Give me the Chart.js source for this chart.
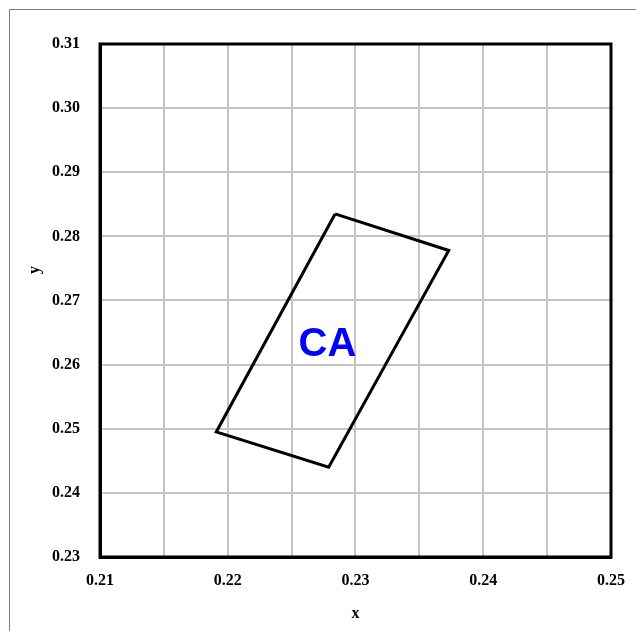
<!DOCTYPE html>
<html>
<head>
<meta charset="utf-8">
<script src="https://cdn.jsdelivr.net/npm/chart.js@4.4.0/dist/chart.umd.min.js"></script>
<style>
  html, body { margin: 0; padding: 0; background: #fff; overflow: hidden; }
  #wrap { position: relative; width: 636px; height: 631px; overflow: hidden; }
  #frame { position: absolute; left: 9px; top: 9px; width: 700px; height: 700px; border: 1px solid #7f7f7f; }
  #c { position: absolute; left: 0; top: 0; }
</style>
</head>
<body>
<div id="wrap">
  <div id="frame"></div>
  <canvas id="c" width="639" height="631"></canvas>
</div>
<script>
// region outline (closed: last point repeats the first)
var polyX = [0.2284, 0.2373, 0.2279, 0.2191, 0.2284];
var polyY = [0.2835, 0.2778, 0.2440, 0.2495, 0.2835];
var regionName = 'CA';
var labelX = [0.2278];
var labelY = [0.2630];

var xMin = 0.21, xMax = 0.25;
var yMin = 0.23, yMax = 0.31;

var points = polyX.map(function (x, i) {
  return { x: x, y: polyY[i] };
});

var tickFont = { family: '"Liberation Serif", "Times New Roman", serif', size: 16, weight: 'bold' };

var extraText = {
  id: 'extraText',
  afterDatasetsDraw: function (chart) {
    var ctx = chart.ctx;
    var sx = chart.scales.x, sy = chart.scales.y;
    ctx.save();
    ctx.fillStyle = '#0000ff';
    ctx.font = 'bold 40px "Liberation Sans", Arial, sans-serif';
    ctx.textAlign = 'center';
    ctx.textBaseline = 'middle';
    ctx.fillText(regionName, sx.getPixelForValue(labelX[0]), sy.getPixelForValue(labelY[0]));
    // y axis title
    ctx.fillStyle = '#000';
    ctx.font = 'bold 16px "Liberation Serif", "Times New Roman", serif';
    ctx.translate(35, 270);
    ctx.rotate(-Math.PI / 2);
    ctx.fillText('y', 0, 0);
    ctx.restore();
  }
};

new Chart(document.getElementById('c'), {
  type: 'scatter',
  data: {
    datasets: [{
      data: points,
      showLine: true,
      borderColor: '#000',
      borderWidth: 3,
      pointRadius: 0,
      fill: false,
      tension: 0
    }]
  },
  options: {
    responsive: false,
    animation: false,
    layout: { padding: { top: 44, right: 22, left: 0, bottom: 0 } },
    plugins: {
      legend: { display: false },
      tooltip: { enabled: false }
    },
    scales: {
      x: {
        type: 'linear',
        min: xMin,
        max: xMax,
        border: { display: true, color: '#000', width: 3 },
        grid: { color: '#c4c4c4', lineWidth: 2, drawTicks: false },
        ticks: {
          stepSize: 0.005,
          padding: 14,
          color: '#000',
          font: tickFont,
          maxRotation: 0,
          autoSkip: false,
          callback: function (v) {
            var r = Math.round(v * 100);
            return Math.abs(v * 100 - r) < 1e-6 ? (r / 100).toFixed(2) : '';
          }
        },
        title: {
          display: true,
          text: 'x',
          color: '#000',
          font: tickFont,
          padding: { top: 6, bottom: 8 }
        },
        afterFit: function (scale) { scale.height = 74; }
      },
      y: {
        type: 'linear',
        min: yMin,
        max: yMax,
        border: { display: true, color: '#000', width: 3 },
        grid: { color: '#c4c4c4', lineWidth: 2, drawTicks: false },
        ticks: {
          stepSize: 0.01,
          padding: 20,
          color: '#000',
          font: tickFont,
          callback: function (v) { return v.toFixed(2); }
        },
        afterFit: function (scale) { scale.width = 100; }
      }
    }
  },
  plugins: [extraText, {
    id: 'frameBox',
    afterDraw: function (chart) {
      var a = chart.chartArea, ctx = chart.ctx;
      ctx.save();
      ctx.strokeStyle = '#000';
      ctx.lineWidth = 3;
      ctx.strokeRect(a.left, a.top, a.right - a.left, a.bottom - a.top);
      ctx.restore();
    }
  }]
});
</script>
</body>
</html>
